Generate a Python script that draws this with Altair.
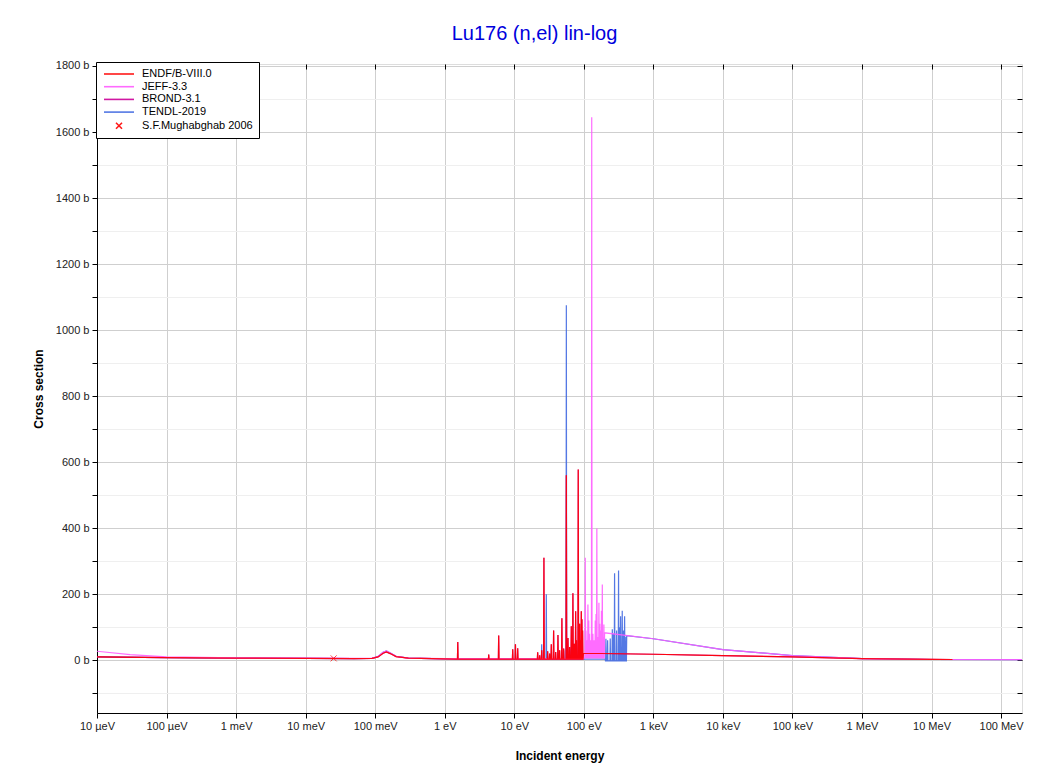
import json
import altair as alt
import pandas as pd

TITLE = "Lu176 (n,el) lin-log"
SERIES = ["ENDF/B-VIII.0", "JEFF-3.3", "BROND-3.1", "TENDL-2019", "S.F.Mughabghab 2006"]
COLORS = ["#ff0000", "#ff5cff", "#cc0099", "#4169e1", "#ff0000"]
SHAPES = ["M-3,0H3", "M-3,0H3", "M-3,0H3", "M-3,0H3",
          "M-0.6,-0.6L0.6,0.6M-0.6,0.6L0.6,-0.6"]

X_TICKS = [1e-5, 1e-4, 1e-3, 1e-2, 1e-1, 1e0, 1e1, 1e2, 1e3, 1e4, 1e5, 1e6, 1e7, 1e8]
X_TICK_LABELS = ["10 \u00b5eV", "100 \u00b5eV", "1 meV", "10 meV", "100 meV", "1 eV",
                 "10 eV", "100 eV", "1 keV", "10 keV", "100 keV", "1 MeV", "10 MeV", "100 MeV"]
Y_TICKS = list(range(-100, 1801, 100))

# ENDF/B-VIII.0 smooth part (eV, barns)
ENDF_BG_E = [1e-5, 1e-4, 1e-3, 1e-2, 0.05, 0.09, 0.11, 0.13, 0.145, 0.165, 0.2, 0.3,
             1.0, 20.0, 97.5, 98.5, 1e3, 1e4, 1e5, 1e6, 1e7, 2e7]
ENDF_BG_XS = [10, 8, 6.5, 5.5, 5, 5.5, 10, 21, 25, 20, 11, 6,
              4, 3.5, 3, 21, 18, 14, 10, 5, 2.5, 2]
# ENDF/B-VIII.0 resonance peaks
ENDF_RES_E = [1.54, 4.29, 5.97, 9.5, 10.4, 11.2, 21.7, 23.2, 24.8, 26.7, 30.2, 32.3,
              34.1, 36.8, 39.4, 42.5, 44.9, 48.4, 51.3, 56.1, 59.2, 62.5, 66.1, 69.7,
              73.0, 76.3, 78.5, 83.2, 87.1, 89.5, 92.1, 94.0, 96.1]
ENDF_RES_PK = [55, 17, 75, 33, 48, 36, 24, 15, 30, 310, 27, 20,
               48, 90, 25, 76, 30, 127, 35, 560, 67, 40, 103, 203,
               50, 148, 60, 578, 110, 60, 148, 124, 90]
ENDF_RES_BASE = 3

# JEFF-3.3
JEFF_BG_E = [1e-5, 3e-5, 1e-4, 1e-3, 1e-2, 0.05, 0.09, 0.11, 0.13, 0.145, 0.165, 0.2, 0.3,
             1.0, 100.0, 103.0, 197.0, 199.0, 400.0, 1e3, 1e4, 1e5, 1e6, 1e7, 2e8]
JEFF_BG_XS = [27, 17, 10, 7, 6, 5.5, 6, 11, 24, 28, 22, 12, 6.5,
              4.5, 5, 7, 7, 83, 75, 65, 32, 14, 5, 2, 1.5]
JEFF_RES_E = [105, 107.5, 110, 114.6, 117.7, 121, 125.4, 130, 135.2, 140.6, 146, 150,
              154, 160, 165, 169.5, 174, 179.2, 184.5, 189, 194.5]
JEFF_RES_PK = [310, 90, 60, 169, 120, 80, 60, 1645, 80, 60, 120, 140,
               399, 70, 174, 110, 90, 150, 229, 70, 108]
JEFF_RES_BASE = 7

# TENDL-2019
TENDL_BG_E = [1e-5, 1e-4, 1e-3, 1e-2, 0.05, 0.09, 0.11, 0.13, 0.145, 0.165, 0.2, 0.3,
              1.0, 20.0, 100.0, 203.0, 205.0, 410.0, 414.0, 1e3, 1e4, 1e5, 1e6, 1e7, 2e8]
TENDL_BG_XS = [10, 8, 6.5, 5.5, 5, 5.5, 11, 24, 28, 22, 12, 6,
               4, 3.5, 3, 3, -2, -2, 74, 65, 32, 14, 5, 2, 1.5]
TENDL_RES_LO_E = [24.8, 28.9, 51.3, 56.1, 62.5]
TENDL_RES_LO_PK = [48, 200, 30, 1075, 40]
TENDL_RES_LO_BASE = 3
TENDL_RES_HI_E = [208, 220, 240, 257, 268, 277, 296, 316, 327, 338, 357, 373, 386, 405]
TENDL_RES_HI_PK = [65, 60, 66, 94, 80, 263, 90, 272, 100, 133, 150, 90, 133, 70]
TENDL_RES_HI_BASE = -2

# thermal point
MUGH_E = [0.0253]
MUGH_XS = [5.5]


def build(name, bg_e, bg_xs, groups):
    rows = [(name, e, v) for e, v in zip(bg_e, bg_xs)]
    for es, pks, base in groups:
        for e, p in zip(es, pks):
            rows.append((name, e / 1.01, base))
            rows.append((name, e, p))
            rows.append((name, e * 1.01, base))
    return rows


rows = []
rows += build(SERIES[0], ENDF_BG_E, ENDF_BG_XS, [(ENDF_RES_E, ENDF_RES_PK, ENDF_RES_BASE)])
rows += build(SERIES[1], JEFF_BG_E, JEFF_BG_XS, [(JEFF_RES_E, JEFF_RES_PK, JEFF_RES_BASE)])
rows += build(SERIES[2], ENDF_BG_E, ENDF_BG_XS, [(ENDF_RES_E, ENDF_RES_PK, ENDF_RES_BASE)])
rows += build(SERIES[3], TENDL_BG_E, TENDL_BG_XS,
              [(TENDL_RES_LO_E, TENDL_RES_LO_PK, TENDL_RES_LO_BASE),
               (TENDL_RES_HI_E, TENDL_RES_HI_PK, TENDL_RES_HI_BASE)])
lines_df = pd.DataFrame(rows, columns=["series", "energy", "xs"])
point_df = pd.DataFrame({"series": [SERIES[4]] * len(MUGH_E), "energy": MUGH_E, "xs": MUGH_XS})

FONT = "Liberation Sans"
x_scale = alt.Scale(type="log", domain=[1e-5, 2e8], nice=False)
y_scale = alt.Scale(domain=[-160, 1806], nice=False, zero=False)
color_scale = alt.Scale(domain=SERIES, range=COLORS)
shape_scale = alt.Scale(domain=SERIES, range=SHAPES)

x_label_expr = json.dumps(X_TICK_LABELS, ensure_ascii=False) + "[round(log(datum.value)/LN10) + 5]"

x_axis_bottom = alt.Axis(values=X_TICKS, labelExpr=x_label_expr, title="Incident energy",
                         grid=True, gridColor="#cfcfcf", gridWidth=1,
                         tickSize=5, tickColor="black", domainColor="black",
                         labelFont=FONT, labelFontSize=11, labelColor="#222222", labelPadding=2,
                         titleFont=FONT, titleFontSize=12, titleFontWeight="bold",
                         titleColor="black", titlePadding=19, labelFlush=False)
y_axis_left = alt.Axis(values=Y_TICKS,
                       labelExpr="datum.value % 200 === 0 ? datum.value + ' b' : ''",
                       title="Cross section", grid=True,
                       gridColor={"condition": {"test": "datum.value % 200 === 0", "value": "#cfcfcf"},
                                  "value": "#efefef"},
                       tickSize=5, tickColor="black", domainColor="black",
                       labelFont=FONT, labelFontSize=11, labelColor="#222222", labelPadding=3,
                       titleFont=FONT, titleFontSize=12, titleFontWeight="bold",
                       titleColor="black", titlePadding=10, labelFlush=False)
x_axis_top = alt.Axis(orient="top", values=X_TICKS, labels=False, title=None, grid=False,
                      tickSize=5, tickColor="black", domain=False, offset=-5)
y_axis_right = alt.Axis(orient="right", values=Y_TICKS, labels=False, title=None, grid=False,
                        tickSize=5, tickColor="black", domain=False, offset=-5)

legend = alt.Legend(orient="none", legendX=-1, legendY=-2, title=None,
                    fillColor="white", strokeColor="black", padding=6, cornerRadius=0,
                    symbolSize=100, symbolStrokeWidth=1.6, symbolOffset=11, labelOffset=17,
                    labelFont=FONT, labelFontSize=11, labelColor="black", rowPadding=1.7,
                    symbolLimit=10, symbolFillColor="transparent")


def line_layer(name, first=False):
    return alt.Chart(lines_df).transform_filter(
        alt.datum.series == name
    ).mark_line(strokeWidth=1.2, opacity=0.9, clip=True).encode(
        x=alt.X("energy:Q", scale=x_scale, axis=x_axis_bottom if first else None),
        y=alt.Y("xs:Q", scale=y_scale, axis=y_axis_left if first else None),
        color=alt.Color("series:N", scale=color_scale, legend=legend),
    )


layers = [
    line_layer(SERIES[3], first=True),
    line_layer(SERIES[2]),
    line_layer(SERIES[1]),
    line_layer(SERIES[0]),
    alt.Chart(point_df).mark_point(filled=False, size=100, strokeWidth=1, clip=True).encode(
        x=alt.X("energy:Q", scale=x_scale, axis=x_axis_top),
        y=alt.Y("xs:Q", scale=y_scale, axis=y_axis_right),
        color=alt.Color("series:N", scale=color_scale, legend=legend),
        shape=alt.Shape("series:N", scale=shape_scale, legend=legend),
    ),
]

chart = alt.layer(*layers).resolve_axis(x="independent", y="independent").properties(
    width=925, height=649,
    title=alt.TitleParams(TITLE, font=FONT, fontSize=20, fontWeight="normal",
                          color="#0000dd", anchor="middle", dx=-25, offset=16),
    autosize=alt.AutoSizeParams(type="none"),
    padding={"left": 89, "top": 56, "right": 19, "bottom": 50},
).configure_view(stroke="black", strokeWidth=1).configure(background="white")

chart.save("out.html", embed_options={"renderer": "svg", "actions": False})
